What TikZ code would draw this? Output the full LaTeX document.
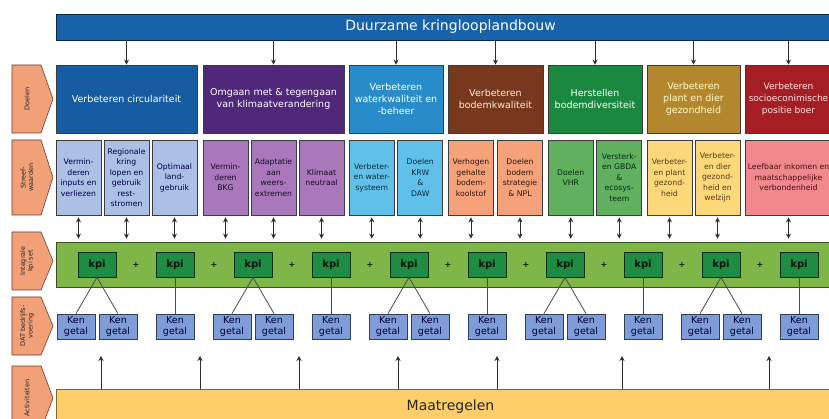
\documentclass[tikz,border=0pt]{standalone}
\usepackage{fontspec}
\setmainfont{DejaVu Sans}
\usetikzlibrary{arrows.meta}

\definecolor{titelblauw}{RGB}{24,98,170}
\definecolor{boxrand}{RGB}{60,60,60}
\definecolor{pijlgrijs}{RGB}{45,45,45}
\definecolor{doelA}{RGB}{22,92,162}
\definecolor{doelB}{RGB}{80,40,122}
\definecolor{doelC}{RGB}{40,140,202}
\definecolor{doelD}{RGB}{120,56,30}
\definecolor{doelE}{RGB}{26,136,62}
\definecolor{doelF}{RGB}{180,135,46}
\definecolor{doelG}{RGB}{165,30,36}
\definecolor{sblauw}{RGB}{172,192,230}
\definecolor{spaars}{RGB}{168,120,186}
\definecolor{scyaan}{RGB}{96,192,232}
\definecolor{szalm}{RGB}{245,162,122}
\definecolor{sgroen}{RGB}{96,176,96}
\definecolor{sgeel}{RGB}{252,216,122}
\definecolor{sroze}{RGB}{240,136,142}
\definecolor{bandgroen}{RGB}{126,182,72}
\definecolor{kpigroen}{RGB}{30,140,66}
\definecolor{kenblauw}{RGB}{126,156,216}
\definecolor{maatgeel}{RGB}{253,206,106}
\definecolor{labeloranje}{RGB}{242,160,120}

\tikzset{
  doel/.style={draw=boxrand, line width=0.8pt, minimum height=68, inner sep=1pt,
    align=center, text=white, font=\fontsize{9.5}{12}\selectfont},
  streef/.style={draw=boxrand, line width=0.8pt, minimum width=45, minimum height=75,
    inner sep=0pt, align=center, font=\fontsize{7.7}{10.5}\selectfont},
  kpibox/.style={draw=black!70!kpigroen, line width=0.8pt, fill=kpigroen, minimum width=38,
    minimum height=25, inner sep=0pt, text=black!85!kpigroen, font=\fontsize{10}{12}\selectfont\bfseries},
  kengetal/.style={draw=black!60!kenblauw, line width=0.8pt, fill=kenblauw, minimum width=38,
    minimum height=25, inner sep=0pt, align=center, text=black!80!blue,
    font=\fontsize{9.5}{10.5}\selectfont},
  plusteken/.style={inner sep=0pt, text=black!80!kpigroen, font=\fontsize{8}{8}\selectfont\bfseries},
  rijlabel/.style={fill=labeloranje, draw=black!60!labeloranje, line width=0.6pt},
  labeltekst/.style={rotate=90, align=center, inner sep=0pt, text=black!85,
    font=\fontsize{6.5}{7.5}\selectfont},
  pijl/.style={-{Stealth[length=5pt,width=5pt]}, line width=1pt, draw=pijlgrijs},
  tweepijl/.style={{Stealth[length=5pt,width=5pt]}-{Stealth[length=5pt,width=5pt]}, line width=1pt, draw=pijlgrijs},
  lijn/.style={line width=0.8pt, draw=black!70}
}

\begin{document}
\begin{tikzpicture}[x=1pt,y=-1pt]
  \clip (0,0) rectangle (829,419);
  \fill[white] (0,0) rectangle (829,419);

  % bovenste balk
  \node[draw=black!60!titelblauw, line width=0.8pt, fill=titelblauw, minimum width=789, minimum height=26,
    text=white, font=\fontsize{14}{16}\selectfont] (titel) at (450.5,27) {Duurzame kringlooplandbouw};

  % doelen
  \node[doel, fill=doelA, minimum width=141] (d1) at (126.5,99) {Verbeteren circulariteit};
  \node[doel, fill=doelB, minimum width=141] (d2) at (273.5,99) {Omgaan met \& tegengaan\\van klimaatverandering};
  \node[doel, fill=doelC, minimum width=94] (d3) at (396,99) {Verbeteren\\waterkwaliteit en\\-beheer};
  \node[doel, fill=doelD, minimum width=95, text=orange!15] (d4) at (495.5,99) {Verbeteren\\bodemkwaliteit};
  \node[doel, fill=doelE, minimum width=94] (d5) at (595,99) {Herstellen\\bodemdiversiteit};
  \node[doel, fill=doelF, minimum width=93, text=yellow!20] (d6) at (693.5,99) {Verbeteren\\plant en dier\\gezondheid};
  \node[doel, fill=doelG, minimum width=87, text=red!10, font=\fontsize{9}{12}\selectfont] (d7) at (788.5,99) {Verbeteren\\socioeconimische\\positie boer};

  \draw[pijl] (titel.south -| d1.north) -- (d1.north);
  \draw[pijl] (titel.south -| d2.north) -- (d2.north);
  \draw[pijl] (titel.south -| d3.north) -- (d3.north);
  \draw[pijl] (titel.south -| d4.north) -- (d4.north);
  \draw[pijl] (titel.south -| d5.north) -- (d5.north);
  \draw[pijl] (titel.south -| d6.north) -- (d6.north);
  \draw[pijl] (titel.south -| d7.north) -- (d7.north);

  % streefwaarden
  \node[streef, fill=sblauw, text=black!75!blue] (s1) at (78.5,177.5) {Vermin-\\deren\\inputs en\\verliezen};
  \node[streef, fill=sblauw, text=black!75!blue] (s2) at (126.5,177.5) {Regionale\\kring\\lopen en\\gebruik\\rest-\\stromen};
  \node[streef, fill=sblauw, text=black!75!blue] (s3) at (174.5,177.5) {Optimaal\\land-\\gebruik};
  \node[streef, fill=spaars, text=black!70!doelB] (s4) at (225.5,177.5) {Vermin-\\deren\\BKG};
  \node[streef, fill=spaars, text=black!70!doelB] (s5) at (273.5,177.5) {Adaptatie\\aan\\weers-\\extremen};
  \node[streef, fill=spaars, text=black!70!doelB] (s6) at (321.5,177.5) {Klimaat\\neutraal};
  \node[streef, fill=scyaan, text=black!70!doelC] (s7) at (371.75,177.5) {Verbeter-\\en water-\\systeem};
  \node[streef, fill=scyaan, text=black!70!doelC] (s8) at (420.25,177.5) {Doelen\\KRW\\\&\\DAW};
  \node[streef, fill=szalm, text=black!60!doelD] (s9) at (471,177.5) {Verhogen\\gehalte\\bodem-\\koolstof};
  \node[streef, fill=szalm, text=black!60!doelD] (s10) at (520,177.5) {Doelen\\bodem\\strategie\\\& NPL};
  \node[streef, fill=sgroen, text=black!70!doelE] (s11) at (570.75,177.5) {Doelen\\VHR};
  \node[streef, fill=sgroen, text=black!70!doelE] (s12) at (619.25,177.5) {Versterk-\\en GBDA\\\&\\ecosys-\\teem};
  \node[streef, fill=sgeel, text=black!55!doelF] (s13) at (669.5,177.5) {Verbeter-\\en plant\\gezond-\\heid};
  \node[streef, fill=sgeel, text=black!55!doelF] (s14) at (717.5,177.5) {Verbeter-\\en dier\\gezond-\\heid en\\welzijn};
  \node[streef, fill=sroze, text=black!55!doelG, minimum width=87] (s15) at (788.5,177.5) {Leefbaar inkomen en\\maatschappelijke\\verbondenheid};

  % integrale kpi set
  \node[draw=black!55!bandgroen, line width=0.8pt, fill=bandgroen, minimum width=789, minimum height=45]
    (band) at (450.5,264.5) {};
  \foreach \s in {1,...,15}
    \draw[tweepijl, shorten >=3pt, shorten <=2pt] (s\s.south) -- (s\s.south |- band.north);
  \foreach \i in {1,...,10}
    \node[kpibox] (k\i) at ({97+78*(\i-1)},264.5) {kpi};
  \foreach \i in {1,...,9}
    \node[plusteken] (p\i) at ({136+78*(\i-1)},264.5) {+};

  % kengetallen
  \foreach \i in {1,3,5,7,9} {
    \node[kengetal] (kenA\i) at ({97+78*(\i-1)-21},326.5) {Ken\\getal};
    \node[kengetal] (kenB\i) at ({97+78*(\i-1)+21},326.5) {Ken\\getal};
    \draw[lijn] (k\i.south) -- (kenA\i.north);
    \draw[lijn] (k\i.south) -- (kenB\i.north);
  }
  \foreach \i in {2,4,6,8,10} {
    \node[kengetal] (kenA\i) at ({97+78*(\i-1)},326.5) {Ken\\getal};
    \draw[lijn] (k\i.south) -- (kenA\i.north);
  }

  % maatregelen
  \node[draw=black!50!maatgeel, line width=0.8pt, fill=maatgeel, minimum width=789, minimum height=36,
    text=black!85, font=\fontsize{14}{16}\selectfont] (maat) at (450.5,407) {Maatregelen};
  \coordinate (m1) at (101,356);
  \coordinate (m2) at (200,356);
  \coordinate (m3) at (299,356);
  \coordinate (m4) at (398,356);
  \coordinate (m5) at (497,356);
  \coordinate (m6) at (622,356);
  \coordinate (m7) at (769,356);
  \foreach \m in {1,...,7}
    \draw[pijl] (m\m |- maat.north) -- (m\m);

  % rijlabels links
  \draw[rijlabel] (12,65) -- (41,65) -- (53,99) -- (41,133) -- (12,133) -- cycle;
  \node[labeltekst] (lDoelen) at (27,99) {Doelen};
  \draw[rijlabel] (12,140) -- (41,140) -- (53,177.5) -- (41,215) -- (12,215) -- cycle;
  \node[labeltekst] (lStreef) at (27,177.5) {Streef-\\waarden};
  \draw[rijlabel] (12,232) -- (41,232) -- (53,261) -- (41,290) -- (12,290) -- cycle;
  \node[labeltekst] (lKpi) at (27,261) {Integrale\\kpi set};
  \draw[rijlabel] (12,297) -- (41,297) -- (53,326) -- (41,355) -- (12,355) -- cycle;
  \node[labeltekst] (lDat) at (27,326) {DAT bedrijfs-\\voering};
  \draw[rijlabel] (12,366) -- (41,366) -- (53,398) -- (41,430) -- (12,430) -- cycle;
  \node[labeltekst] (lAct) at (27,398) {Activiteiten};
\end{tikzpicture}
\end{document}
